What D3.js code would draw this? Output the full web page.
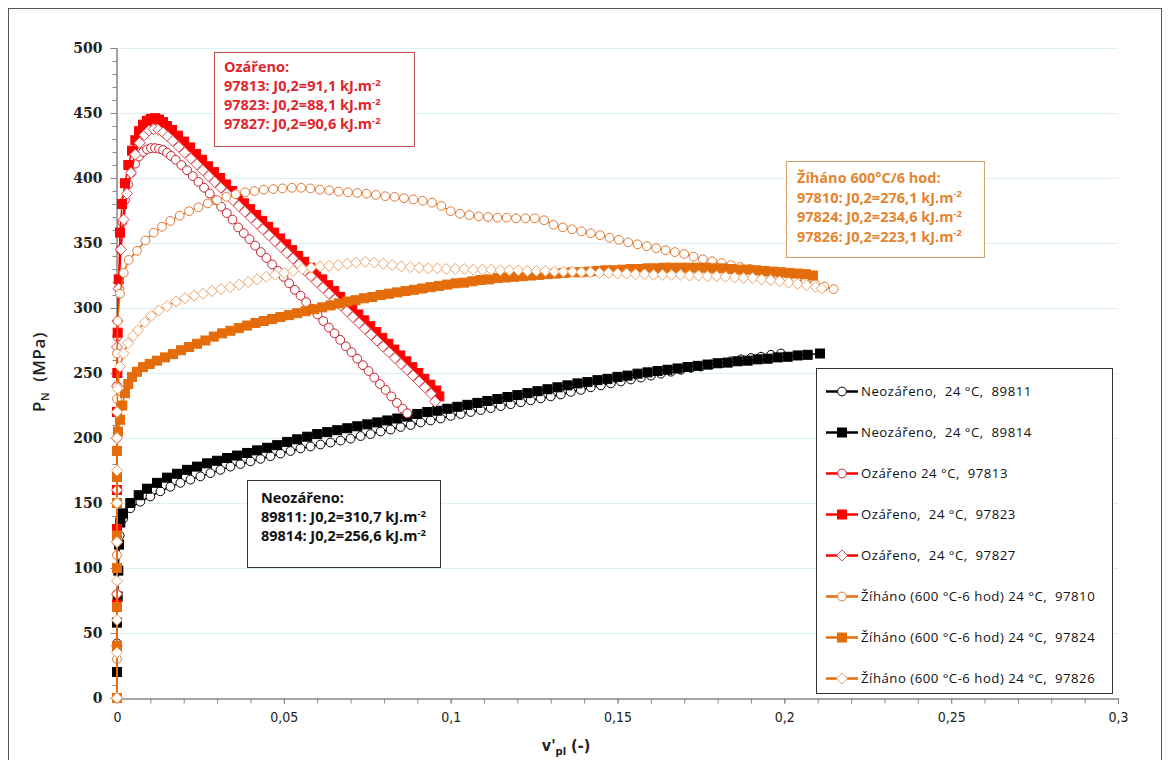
<!DOCTYPE html>
<html>
<head>
<meta charset="utf-8">
<script src="https://cdn.jsdelivr.net/npm/d3@7/dist/d3.min.js"></script>
<style>
  body { margin: 0; background: #fff; }
  svg text { white-space: pre; }
</style>
</head>
<body>
<svg id="chart" width="1169" height="760"></svg>
<script>
"use strict";

// axis ticks
const xTicks = [0, 0.05, 0.1, 0.15, 0.2, 0.25, 0.3];
const yTicks = [0, 50, 100, 150, 200, 250, 300, 350, 400, 450, 500];

// series values, [v'pl, PN]
const s89811 = [[0,0],[0,42],[0,70],[0.0003,100],[0.0008,125],[0.0018,138],[0.004,146],[0.007,151],[0.010,155],[0.013,159],[0.016,162.5],[0.019,165.5],[0.022,168],[0.025,170.5],[0.028,173],[0.031,175.5],[0.034,178],[0.037,180],[0.040,182],[0.043,184],[0.046,186],[0.049,188],[0.052,190],[0.055,192],[0.058,193.5],[0.061,195],[0.064,196.5],[0.067,198],[0.070,199.5],[0.073,201.5],[0.076,203],[0.079,205],[0.082,206.5],[0.085,208.5],[0.088,210],[0.091,212],[0.094,213.5],[0.097,215],[0.100,217],[0.103,218.5],[0.106,220],[0.109,221.5],[0.112,223],[0.115,224.5],[0.118,226],[0.121,227.5],[0.124,229],[0.127,230.5],[0.130,232],[0.133,233.5],[0.136,235.5],[0.139,237],[0.142,239],[0.145,240.5],[0.148,242],[0.151,243.5],[0.154,245],[0.157,246.5],[0.160,248],[0.163,249.5],[0.166,251],[0.169,252.5],[0.172,254],[0.175,255],[0.178,256.5],[0.181,257.5],[0.184,259],[0.187,260.5],[0.190,261.5],[0.193,262.5],[0.196,264],[0.199,265]];

const s89814 = [[0,0],[0,20],[0,40],[0,58],[0.0002,78],[0.0004,98],[0.0006,118],[0.001,135],[0.0018,142],[0.004,150],[0.0065,156],[0.009,161],[0.012,165.5],[0.015,169.5],[0.018,172.5],[0.021,175.5],[0.024,178],[0.027,180.5],[0.030,182.5],[0.033,184.6],[0.036,186.5],[0.039,188.5],[0.042,190.5],[0.045,192.5],[0.048,194.5],[0.051,197],[0.054,199],[0.057,201],[0.060,203],[0.063,204.5],[0.066,206],[0.069,207.5],[0.072,209],[0.075,210.5],[0.078,212],[0.081,213.5],[0.084,215],[0.087,216.5],[0.090,218.5],[0.093,220],[0.096,221],[0.099,222.5],[0.102,224],[0.105,225.5],[0.108,227],[0.111,228.5],[0.114,230],[0.117,231.5],[0.120,233],[0.123,234.5],[0.126,236],[0.129,237.5],[0.132,239],[0.135,240.5],[0.138,242],[0.141,243],[0.144,244.5],[0.147,245.5],[0.150,247],[0.153,248],[0.156,249.5],[0.159,250.5],[0.162,251.5],[0.165,252.5],[0.168,253.5],[0.171,254.6],[0.174,255.5],[0.177,256.5],[0.180,257.5],[0.183,258],[0.186,259],[0.189,259.5],[0.192,260.5],[0.195,261],[0.198,262],[0.201,262.5],[0.204,263.5],[0.207,264],[0.2107,265]];

const s97813 = [[0,0],[0,40],[0,80],[0,120],[0,160],[0,200],[0,240],[0.0001,278],[0.0005,315],[0.001,345],[0.0016,366],[0.0024,383],[0.0033,395],[0.0043,404],[0.0054,411],[0.0066,416.5],[0.0078,420],[0.009,422],[0.0102,423],[0.0114,423],[0.0126,422.5],[0.0138,421.5],[0.015,419.5],[0.0162,417],[0.0176,414],[0.0193,410],[0.0210,406],[0.0227,401.5],[0.0244,397],[0.0261,392.5],[0.0278,388],[0.0295,383],[0.0312,378],[0.0329,373],[0.0346,368],[0.0363,362],[0.0380,357.5],[0.0397,353],[0.0414,348],[0.0431,343],[0.0448,338.5],[0.0465,333.5],[0.0482,328.5],[0.0499,324],[0.0516,319],[0.0533,314],[0.0550,309.5],[0.0567,304.5],[0.0584,299.5],[0.0601,295],[0.0618,290],[0.0635,285],[0.0652,280.5],[0.0669,275.5],[0.0686,270.5],[0.0703,266],[0.0720,261],[0.0737,256],[0.0754,251.5],[0.0771,246.5],[0.0788,241.5],[0.0805,237],[0.0822,232],[0.0839,227],[0.0856,222.5],[0.0870,219]];

const s97823 = [[0,0],[0,40],[0,72],[0,100],[0,130],[0,160],[0,190],[0,220],[0.0001,250],[0.0002,281],[0.0005,322],[0.0009,358],[0.0015,380],[0.0024,396],[0.0034,410],[0.0045,421],[0.0055,429],[0.0066,436],[0.0078,441],[0.009,444],[0.0102,445.5],[0.0114,446],[0.0126,445],[0.0138,443],[0.015,440],[0.0165,437],[0.0183,432.5],[0.0201,428],[0.0219,423.5],[0.0237,418.5],[0.0255,414],[0.0273,409],[0.0291,404.5],[0.0309,400],[0.0327,395],[0.0345,390],[0.0363,385],[0.0381,380.5],[0.0399,376],[0.0417,371.5],[0.0435,367],[0.0453,362.5],[0.0471,358],[0.0489,353.5],[0.0507,349],[0.0525,344.5],[0.0543,340],[0.0561,335.5],[0.0579,331],[0.0597,326.5],[0.0615,322],[0.0633,317.5],[0.0651,313],[0.0669,308.5],[0.0687,304],[0.0705,299.5],[0.0723,295],[0.0741,290.5],[0.0759,286],[0.0777,281.5],[0.0795,277],[0.0813,272.5],[0.0831,268],[0.0849,263.5],[0.0867,259],[0.0885,254.5],[0.0903,250],[0.0921,245.5],[0.0939,241],[0.0957,236.5],[0.0966,232]];

const s97827 = [[0,0],[0,40],[0,80],[0,120],[0,160],[0,200],[0,240],[0,270],[0.0001,290],[0.0005,315],[0.0012,345],[0.002,368],[0.003,388],[0.0042,404],[0.0055,418],[0.0068,427],[0.0082,433],[0.0096,436.5],[0.011,437.5],[0.0124,437],[0.0138,435],[0.0152,432],[0.0167,428.5],[0.0185,424],[0.0203,419.5],[0.0221,415],[0.0239,410.5],[0.0257,406],[0.0275,401.5],[0.0293,397],[0.0311,392.5],[0.0329,388],[0.0347,383],[0.0365,378.5],[0.0383,374],[0.0401,369.5],[0.0419,365],[0.0437,360.5],[0.0455,356],[0.0473,351.5],[0.0491,347],[0.0509,342.5],[0.0527,338],[0.0545,333.5],[0.0563,329],[0.0581,324.5],[0.0599,320],[0.0617,315.5],[0.0635,311],[0.0653,306.5],[0.0671,302],[0.0689,297.5],[0.0707,293],[0.0725,288.5],[0.0743,284],[0.0761,279.5],[0.0779,275],[0.0797,270.5],[0.0815,266],[0.0833,261.5],[0.0851,257],[0.0869,252.5],[0.0887,248],[0.0905,243.5],[0.0923,239],[0.0941,234],[0.0953,228]];

const s97810 = [[0,0],[0,30],[0,70],[0,110],[0,150],[0,190],[0,230],[0,265],[0.0002,290],[0.0009,311],[0.002,327],[0.0035,337],[0.006,344],[0.0085,352],[0.011,358],[0.0135,362.5],[0.016,367],[0.0188,371],[0.0216,374.5],[0.0244,377.5],[0.0272,380.5],[0.030,383],[0.0328,385.5],[0.0356,387.5],[0.0384,389],[0.0412,390],[0.044,391],[0.0468,391.5],[0.0496,392],[0.0524,392.5],[0.0552,392.5],[0.058,392],[0.0608,391],[0.0636,390.5],[0.0664,389.5],[0.0692,389],[0.072,388.5],[0.0748,388],[0.0776,387],[0.0804,386],[0.0832,385.5],[0.086,384.5],[0.0888,383.5],[0.0916,382.5],[0.0944,381],[0.0972,378.5],[0.100,374.5],[0.1028,372.5],[0.1056,371.5],[0.1084,370.5],[0.1112,370],[0.114,369.5],[0.1168,369.5],[0.1196,369],[0.1224,369],[0.1252,369],[0.128,367.5],[0.1308,364],[0.1336,362],[0.1364,360.5],[0.1392,359],[0.142,357.5],[0.1448,356],[0.1476,354],[0.1504,352.5],[0.1532,350.5],[0.156,349],[0.1588,347.5],[0.1616,346],[0.1644,344.5],[0.1672,343],[0.170,341.5],[0.1728,339.5],[0.1756,337.5],[0.1784,336],[0.1812,334.5],[0.184,333],[0.1868,331.5],[0.1896,330],[0.1924,328.5],[0.1952,327],[0.198,325.5],[0.2008,324],[0.2036,322],[0.2064,320],[0.2092,318.5],[0.212,316.5],[0.2148,314.5]];

const s97824 = [[0,0],[0,40],[0,70],[0,100],[0,125],[0,150],[0,170],[0,190],[0.0003,205],[0.0009,214],[0.0016,225],[0.0024,234.5],[0.0034,241.5],[0.0045,247],[0.006,251],[0.0078,254.5],[0.0098,257],[0.012,259.5],[0.0144,262],[0.0168,264.5],[0.0192,267.5],[0.0216,270],[0.024,272.5],[0.0265,275],[0.029,278],[0.0315,280.5],[0.034,282.5],[0.0365,284.5],[0.039,286.5],[0.0415,288.5],[0.044,290],[0.0465,291.5],[0.049,293],[0.0515,294.5],[0.054,296],[0.0565,297.5],[0.059,299],[0.0615,300.5],[0.064,302],[0.0665,303.5],[0.069,305],[0.0715,306],[0.074,307.5],[0.0765,308.5],[0.079,310],[0.0815,311],[0.084,312],[0.0865,313],[0.089,314],[0.0915,315],[0.094,316],[0.0965,317],[0.099,318],[0.1015,319],[0.104,319.5],[0.1065,320.5],[0.109,321.5],[0.1115,322],[0.114,323],[0.1165,323.5],[0.119,324],[0.1215,324.5],[0.124,325],[0.1265,325.5],[0.129,326],[0.1315,326.5],[0.134,327],[0.1365,327.5],[0.139,327.5],[0.1415,328],[0.144,328.5],[0.1465,329],[0.149,329],[0.1515,329.5],[0.154,330],[0.1565,330],[0.159,330.5],[0.1615,330.5],[0.164,331],[0.1665,331],[0.169,331],[0.1715,331],[0.174,331],[0.1765,331],[0.179,330.5],[0.1815,330.5],[0.184,330],[0.1865,329.5],[0.189,329.5],[0.1915,329],[0.194,328.5],[0.1965,328],[0.199,327.5],[0.2015,327],[0.204,326.5],[0.2065,326],[0.2086,325]];

const s97826 = [[0,0],[0,35],[0,60],[0,90],[0,120],[0,150],[0,175],[0,200],[0,220],[0.0002,238],[0.0009,255],[0.002,265],[0.0033,273],[0.0048,278.5],[0.0063,283],[0.0083,289],[0.0103,294],[0.0125,298],[0.015,301.5],[0.0177,305],[0.0204,307.5],[0.0231,309.5],[0.0258,311],[0.0285,313],[0.0312,314.5],[0.0339,316],[0.0366,318],[0.0393,320],[0.042,322],[0.0447,324],[0.0474,325.5],[0.0501,327],[0.0528,328.5],[0.0555,330],[0.0582,331],[0.0609,332],[0.0636,332.5],[0.0663,333],[0.069,334],[0.0717,335],[0.0744,335.5],[0.0771,335],[0.0798,334],[0.0825,333],[0.0852,332],[0.0879,331.5],[0.0906,331],[0.0933,330.5],[0.096,330.5],[0.0987,330],[0.1014,330],[0.1041,330],[0.1068,329.5],[0.1095,329.5],[0.1122,329.5],[0.1149,329],[0.1176,329],[0.1203,329],[0.123,328.5],[0.1257,328.5],[0.1284,328.5],[0.1311,328],[0.1338,328],[0.1365,328],[0.1392,327.5],[0.1419,327.5],[0.1446,327],[0.1473,327],[0.15,326.5],[0.1527,326.5],[0.1554,326],[0.1581,326],[0.1608,325.5],[0.1635,325.5],[0.1662,325.5],[0.1689,325.5],[0.1716,325],[0.1743,325],[0.177,324.5],[0.1797,324.5],[0.1824,324],[0.1851,323.5],[0.1878,323],[0.1905,323],[0.1932,322],[0.1959,321.5],[0.1986,320.5],[0.2013,319.5],[0.204,318.5],[0.2067,317.5],[0.2094,316],[0.2112,315]];

const legendLabels = [
  'Neozářeno,  24 °C,  89811',
  'Neozářeno,  24 °C,  89814',
  'Ozářeno 24 °C,  97813',
  'Ozářeno,  24 °C,  97823',
  'Ozářeno,  24 °C,  97827',
  'Žíháno (600 °C-6 hod) 24 °C,  97810',
  'Žíháno (600 °C-6 hod) 24 °C,  97824',
  'Žíháno (600 °C-6 hod) 24 °C,  97826'
];

// annotation boxes: heading + [sample, J0,2 value]
const redHeading = 'Ozářeno:';
const redNotes = [['97813', '91,1'], ['97823', '88,1'], ['97827', '90,6']];
const orangeHeading = 'Žíháno 600°C/6 hod:';
const orangeNotes = [['97810', '276,1'], ['97824', '234,6'], ['97826', '223,1']];
const blackHeading = 'Neozářeno:';
const blackNotes = [['89811', '310,7'], ['89814', '256,6']];

const RED = '#ff0000';
const ORANGE = '#e46c0a';

const series = [
  { data: s89811, line: '#000', marker: 'circle', stroke: '#000', fill: '#fff' },
  { data: s89814, line: '#000', marker: 'square', stroke: '#000', fill: '#000' },
  { data: s97813, line: RED, marker: 'circle', stroke: '#c8202e', fill: '#fff' },
  { data: s97823, line: RED, marker: 'square', stroke: RED, fill: RED },
  { data: s97827, line: RED, marker: 'diamond', stroke: '#e04a55', fill: '#fff' },
  { data: s97810, line: ORANGE, marker: 'circle', stroke: '#e07a35', fill: '#fff' },
  { data: s97824, line: ORANGE, marker: 'square', stroke: ORANGE, fill: ORANGE },
  { data: s97826, line: ORANGE, marker: 'diamond', stroke: '#eea46a', fill: '#fff' }
];

const svg = d3.select('#chart');

const x = d3.scaleLinear().domain([0, 0.3]).range([117, 1118]);
const y = d3.scaleLinear().domain([0, 500]).range([698, 48]);

// outer frame
svg.append('rect')
  .attr('x', 8.5).attr('y', 8.5)
  .attr('width', 1153).attr('height', 770)
  .attr('fill', '#fff').attr('stroke', '#555').attr('stroke-width', 1);

// horizontal grid
svg.append('g').selectAll('line')
  .data(yTicks.filter(d => d > 0))
  .join('line')
  .attr('x1', x(0)).attr('x2', x(0.3))
  .attr('y1', d => Math.round(y(d)) + 0.5).attr('y2', d => Math.round(y(d)) + 0.5)
  .attr('stroke', '#dbeff6').attr('stroke-width', 1);

const fmtX = d => String(d).replace('.', ',');

// y axis with minor ticks
const yMinor = svg.append('g').attr('transform', `translate(${x(0) - 0.5},0)`)
  .call(d3.axisLeft(y).ticks(50).tickSize(4).tickFormat(''));
const yAxis = svg.append('g').attr('transform', `translate(${x(0) - 0.5},0)`)
  .call(d3.axisLeft(y).tickValues(yTicks).tickSize(6).tickPadding(8));
yAxis.selectAll('text')
  .attr('font-family', 'DejaVu Serif, serif')
  .attr('font-weight', 'bold')
  .attr('font-size', 14)
  .attr('fill', '#222');

// x axis with minor ticks
const xMinor = svg.append('g').attr('transform', `translate(0,${y(0) + 0.5})`)
  .call(d3.axisBottom(x).ticks(30).tickSize(5).tickFormat(''));
const xAxis = svg.append('g').attr('transform', `translate(0,${y(0) + 0.5})`)
  .call(d3.axisBottom(x).tickValues(xTicks).tickSize(5).tickPadding(9).tickFormat(fmtX));
xAxis.selectAll('text')
  .attr('font-family', 'DejaVu Sans Condensed, Liberation Sans Narrow, sans-serif')
  .attr('font-size', 14)
  .attr('fill', '#222');

[yMinor, yAxis, xMinor, xAxis].forEach(g => {
  g.selectAll('.domain, .tick line').attr('stroke', '#868686');
});

// axis titles
const yTitle = svg.append('text')
  .attr('transform', 'translate(45,372) rotate(-90)')
  .attr('text-anchor', 'middle')
  .attr('font-family', 'Open Sans, sans-serif')
  .attr('font-weight', 600)
  .attr('font-size', 17)
  .attr('letter-spacing', 0.6)
  .attr('fill', '#222');
yTitle.append('tspan').text('P');
yTitle.append('tspan').attr('font-size', 11).attr('dy', 4).text('N');
yTitle.append('tspan').attr('dy', -4).text('  (MPa)');

const xTitle = svg.append('text')
  .attr('x', 566).attr('y', 751)
  .attr('text-anchor', 'middle')
  .attr('font-family', 'DejaVu Sans Condensed, sans-serif')
  .attr('font-weight', 'bold')
  .attr('font-size', 16)
  .attr('fill', '#222');
xTitle.append('tspan').text("v'");
xTitle.append('tspan').attr('font-size', 11).attr('dy', 4).text('pl');
xTitle.append('tspan').attr('dy', -4).text(' (-)');

// markers
function drawMarker(sel, kind) {
  if (kind === 'circle') {
    return sel.append('circle').attr('r', 4.4);
  }
  if (kind === 'square') {
    return sel.append('rect').attr('x', -4.5).attr('y', -4.5).attr('width', 9).attr('height', 9);
  }
  return sel.append('path').attr('d', 'M0,-5.5L5.5,0L0,5.5L-5.5,0Z');
}

const line = d3.line().x(d => x(d[0])).y(d => y(d[1]));

const plot = svg.append('g');
series.forEach(s => {
  const g = plot.append('g');
  g.append('path')
    .attr('d', line(s.data))
    .attr('fill', 'none')
    .attr('stroke', s.line)
    .attr('stroke-width', 1.5);
  g.selectAll('g.m')
    .data(s.data)
    .join('g')
    .attr('class', 'm')
    .attr('transform', d => `translate(${x(d[0])},${y(d[1])})`)
    .each(function () {
      drawMarker(d3.select(this), s.marker)
        .attr('fill', s.fill)
        .attr('stroke', s.stroke)
        .attr('stroke-width', 1);
    });
});

// annotation boxes
function noteBox(bx, by, bw, bh, border, color, heading, notes, tx, ty0, step) {
  const g = svg.append('g');
  g.append('rect')
    .attr('x', bx + 0.5).attr('y', by + 0.5)
    .attr('width', bw).attr('height', bh)
    .attr('fill', '#fff').attr('stroke', border).attr('stroke-width', 1);
  const txt = g.append('g')
    .attr('font-family', 'Open Sans, sans-serif')
    .attr('font-weight', 'bold')
    .attr('font-size', 14.5)
    .attr('fill', color);
  txt.append('text').attr('x', tx).attr('y', ty0).attr('dy', '0.35em').text(heading);
  notes.forEach((n, i) => {
    const t = txt.append('text').attr('x', tx).attr('y', ty0 + step * (i + 1)).attr('dy', '0.35em');
    t.append('tspan').text(`${n[0]}: J0,2=${n[1]} kJ.m`);
    t.append('tspan').attr('font-size', 9.5).attr('dy', -5.5).text('-2');
  });
}

noteBox(214, 52, 200, 94, '#c0504d', '#e0262b', redHeading, redNotes, 224, 67, 19);
noteBox(786, 161, 198, 96, '#d7a068', '#e6842e', orangeHeading, orangeNotes, 797, 178, 19.5);
noteBox(247, 480, 193, 87, '#333', '#111', blackHeading, blackNotes, 261, 498, 19);

// legend
const legend = svg.append('g');
legend.append('rect')
  .attr('x', 816.5).attr('y', 368.5)
  .attr('width', 296).attr('height', 325)
  .attr('fill', '#fff').attr('stroke', '#333').attr('stroke-width', 1);

series.forEach((s, i) => {
  const ly = 391.5 + i * 41;
  const g = legend.append('g');
  g.append('line')
    .attr('x1', 826).attr('x2', 858)
    .attr('y1', ly).attr('y2', ly)
    .attr('stroke', s.line).attr('stroke-width', 2.5);
  drawMarker(g.append('g').attr('transform', `translate(842,${ly})`), s.marker)
    .attr('fill', s.fill).attr('stroke', s.stroke).attr('stroke-width', 1);
  g.append('text')
    .attr('x', 861).attr('y', ly).attr('dy', '0.35em')
    .attr('font-family', 'Open Sans, sans-serif')
    .attr('font-size', 13.2)
    .attr('letter-spacing', 0.5)
    .attr('fill', '#111')
    .text(legendLabels[i]);
});
</script>
</body>
</html>
